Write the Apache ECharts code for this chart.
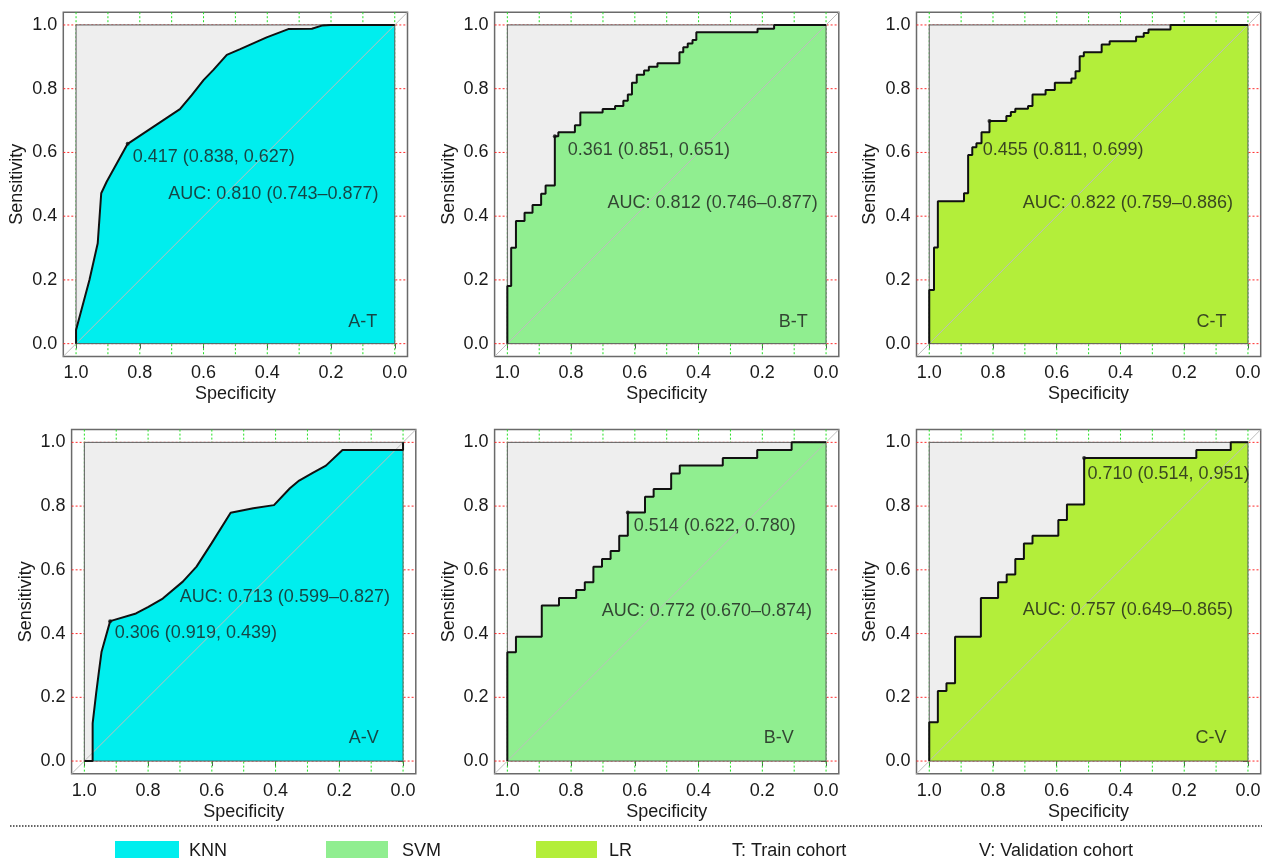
<!DOCTYPE html>
<html><head><meta charset="utf-8">
<script src="https://cdn.jsdelivr.net/npm/echarts@6/dist/echarts.min.js"></script>
<style>html,body{margin:0;padding:0;background:#fff}#c{width:1262px;height:858px}</style>
</head><body><div id="c"></div>
<script>
// ---------- tick / grid values ----------
const xTicks = [1.0, 0.8, 0.6, 0.4, 0.2, 0.0];
const yTicks = [0.0, 0.2, 0.4, 0.6, 0.8, 1.0];
const xGridLines = [0, 0.1, 0.2, 0.3, 0.4, 0.5, 0.6, 0.7, 0.8, 0.9, 1.0];
const yGridLines = [0, 0.2, 0.4, 0.6, 0.8, 1.0];
const diagonal = [-0.04, 1.04];

// ---------- A-T : KNN, train cohort (polyline) ----------
const knnTrainSpec = [1, 1, 0.958, 0.932, 0.921, 0.904, 0.838, 0.674, 0.637, 0.600, 0.569, 0.527, 0.485, 0.402, 0.334, 0.260, 0.229, 0.201, 0];
const knnTrainSens = [0, 0.043, 0.200, 0.315, 0.472, 0.508, 0.627, 0.736, 0.780, 0.827, 0.859, 0.906, 0.924, 0.961, 0.987, 0.988, 0.998, 1.0, 1.0];

// ---------- B-T : SVM, train cohort (steps) ----------
const svmTrainSpec = [1, 1, 0.988, 0.973, 0.946, 0.921, 0.894, 0.880, 0.851, 0.840, 0.788, 0.771, 0.701, 0.662, 0.636, 0.622, 0.609, 0.594, 0.571, 0.556, 0.529, 0.460, 0.448, 0.434, 0.419, 0.407, 0.215, 0.163, 0];
const svmTrainSens = [0, 0.181, 0.301, 0.385, 0.411, 0.435, 0.470, 0.496, 0.651, 0.663, 0.685, 0.725, 0.736, 0.746, 0.762, 0.782, 0.819, 0.844, 0.857, 0.869, 0.880, 0.914, 0.930, 0.942, 0.953, 0.977, 0.988, 1.0, 1.0];

// ---------- C-T : LR, train cohort (steps) ----------
const lrTrainSpec = [1, 1, 0.985, 0.973, 0.891, 0.878, 0.865, 0.852, 0.836, 0.811, 0.758, 0.744, 0.730, 0.690, 0.676, 0.635, 0.606, 0.554, 0.541, 0.528, 0.515, 0.459, 0.434, 0.351, 0.327, 0.312, 0.243, 0];
const lrTrainSens = [0, 0.168, 0.302, 0.447, 0.472, 0.592, 0.616, 0.629, 0.663, 0.699, 0.714, 0.727, 0.737, 0.746, 0.782, 0.796, 0.819, 0.832, 0.855, 0.902, 0.914, 0.939, 0.949, 0.963, 0.975, 0.986, 1.0, 1.0];

// ---------- A-V : KNN, validation cohort (polyline) ----------
const knnValSpec = [1, 0.974, 0.974, 0.963, 0.955, 0.946, 0.919, 0.838, 0.799, 0.754, 0.691, 0.648, 0.601, 0.541, 0.470, 0.405, 0.355, 0.326, 0.282, 0.242, 0.190, 0, 0];
const knnValSens = [0, 0, 0.118, 0.212, 0.275, 0.343, 0.439, 0.463, 0.484, 0.510, 0.563, 0.610, 0.683, 0.779, 0.793, 0.803, 0.856, 0.880, 0.905, 0.927, 0.976, 0.976, 1.0];

// ---------- B-V : SVM, validation cohort (steps) ----------
const svmValSpec = [1, 1, 0.973, 0.892, 0.838, 0.784, 0.757, 0.730, 0.703, 0.676, 0.649, 0.622, 0.568, 0.541, 0.486, 0.459, 0.324, 0.216, 0.108, 0];
const svmValSens = [0, 0.341, 0.390, 0.488, 0.512, 0.537, 0.561, 0.610, 0.634, 0.659, 0.707, 0.780, 0.829, 0.854, 0.902, 0.927, 0.951, 0.976, 1.0, 1.0];

// ---------- C-V : LR, validation cohort (steps) ----------
const lrValSpec = [1, 1, 0.973, 0.946, 0.919, 0.838, 0.784, 0.757, 0.730, 0.703, 0.676, 0.595, 0.568, 0.514, 0.162, 0.054, 0];
const lrValSens = [0, 0.122, 0.220, 0.244, 0.390, 0.512, 0.561, 0.585, 0.634, 0.683, 0.707, 0.756, 0.805, 0.951, 0.976, 1.0, 1.0];

// ---------- best thresholds & AUC texts ----------
const panelLabels = ['A-T', 'B-T', 'C-T', 'A-V', 'B-V', 'C-V'];
const modelNames = ['KNN', 'SVM', 'LR', 'KNN', 'SVM', 'LR'];
const thresholdPoints = [[0.838, 0.627], [0.851, 0.651], [0.811, 0.699], [0.919, 0.439], [0.622, 0.780], [0.514, 0.951]];
const thresholdTexts = ['0.417 (0.838, 0.627)', '0.361 (0.851, 0.651)', '0.455 (0.811, 0.699)', '0.306 (0.919, 0.439)', '0.514 (0.622, 0.780)', '0.710 (0.514, 0.951)'];
const aucTexts = ['AUC: 0.810 (0.743\u20130.877)', 'AUC: 0.812 (0.746\u20130.877)', 'AUC: 0.822 (0.759\u20130.886)', 'AUC: 0.713 (0.599\u20130.827)', 'AUC: 0.772 (0.670\u20130.874)', 'AUC: 0.757 (0.649\u20130.865)'];
const legendNames = ['KNN', 'SVM', 'LR', 'T: Train cohort', 'V: Validation cohort'];

// ---------- layout & style (not data) ----------
const curves = [
  [knnTrainSpec, knnTrainSens, false], [svmTrainSpec, svmTrainSens, true], [lrTrainSpec, lrTrainSens, true],
  [knnValSpec, knnValSens, false], [svmValSpec, svmValSens, true], [lrValSpec, lrValSens, true]
];
const modelColors = {KNN: '#00EEEE', SVM: '#90EE90', LR: '#B3EE3A'};
const boxes = [
  {left: 63.3, top: 12.2}, {left: 494.6, top: 12.2}, {left: 916.5, top: 12.2},
  {left: 71.6, top: 429.6}, {left: 494.6, top: 429.6}, {left: 916.5, top: 429.6}
];
const boxSize = 344.2;
// text anchors in data coords: [threshold text left-middle, AUC text left-middle, label right-middle]
const textAnchors = [
  [[0.824, 0.586], [0.712, 0.470], [0.053, 0.069]],
  [[0.812, 0.608], [0.687, 0.442], [0.056, 0.069]],
  [[0.834, 0.608], [0.708, 0.442], [0.066, 0.069]],
  [[0.906, 0.401], [0.702, 0.514], [0.075, 0.072]],
  [[0.605, 0.737], [0.705, 0.470], [0.100, 0.072]],
  [[0.505, 0.900], [0.708, 0.473], [0.066, 0.072]]
];
const FONT = 'Liberation Sans, Arial, Helvetica, sans-serif';
const FS = 18;
const TXT = '#1a1a1a';

const grid = [], xAxis = [], yAxis = [], series = [];
const fmt = v => Number(v).toFixed(1);

boxes.forEach((b, i) => {
  grid.push({left: b.left, top: b.top, width: boxSize, height: boxSize, show: true,
    outerBoundsMode: 'none', containLabel: false,
    borderColor: '#6a6a6a', borderWidth: 1.5, backgroundColor: 'transparent'});
  xAxis.push({type: 'value', gridIndex: i, min: -0.04, max: 1.04, inverse: true,
    axisLine: {show: false}, splitLine: {show: false},
    axisTick: {show: true, customValues: xTicks, length: 5, lineStyle: {color: '#555', width: 1}},
    axisLabel: {customValues: xTicks, formatter: fmt, fontSize: FS, fontFamily: FONT, color: TXT, margin: 8},
    name: 'Specificity', nameLocation: 'middle', nameGap: 29,
    nameTextStyle: {fontSize: FS, fontFamily: FONT, color: TXT}});
  yAxis.push({type: 'value', gridIndex: i, min: -0.04, max: 1.04,
    axisLine: {show: false}, splitLine: {show: false},
    axisTick: {show: true, customValues: yTicks, length: 5, lineStyle: {color: '#555', width: 1}},
    axisLabel: {customValues: yTicks, formatter: fmt, fontSize: FS, fontFamily: FONT, color: TXT, margin: 6},
    name: 'Sensitivity', nameLocation: 'middle', nameGap: 37,
    nameTextStyle: {fontSize: FS, fontFamily: FONT, color: TXT}});

  const ax = {xAxisIndex: i, yAxisIndex: i, silent: true, animation: false};
  // dotted guide lines (only visible in the margin around the unit square)
  series.push(Object.assign({type: 'custom', z: 1, clip: false,
    data: xGridLines.map(v => [v, 0]),
    renderItem: (p, api) => {
      const x = api.coord([api.value(0), 0])[0];
      const y1 = api.coord([0, diagonal[1]])[1], y2 = api.coord([0, diagonal[0]])[1];
      return {type: 'line', shape: {x1: x, y1: y1, x2: x, y2: y2}, style: {stroke: '#22e022', lineWidth: 1, lineDash: [2, 2]}};
    }}, ax));
  series.push(Object.assign({type: 'custom', z: 1, clip: false,
    data: yGridLines.map(v => [0, v]),
    renderItem: (p, api) => {
      const y = api.coord([0, api.value(1)])[1];
      const x1 = api.coord([diagonal[1], 0])[0], x2 = api.coord([diagonal[0], 0])[0];
      return {type: 'line', shape: {x1: x1, y1: y, x2: x2, y2: y}, style: {stroke: '#ff2a2a', lineWidth: 1, lineDash: [2, 2]}};
    }}, ax));
  // unit-square background
  const rectRender = (fill, stroke) => (p, api) => {
    const p1 = api.coord([api.value(0), api.value(1)]);
    const p2 = api.coord([api.value(2), api.value(3)]);
    return {type: 'rect', shape: {x: Math.min(p1[0], p2[0]), y: Math.min(p1[1], p2[1]),
      width: Math.abs(p2[0] - p1[0]), height: Math.abs(p2[1] - p1[1])},
      style: {fill: fill, stroke: stroke, lineWidth: 1}};
  };
  series.push(Object.assign({type: 'custom', z: 2, clip: false, data: [[1, 1, 0, 0]],
    renderItem: rectRender('#EEEEEE', null)}, ax));

  const [spec, sens, isStep] = curves[i];
  const pts = spec.map((s, k) => [s, sens[k]]);
  const col = modelColors[modelNames[i]];
  // filled area under ROC
  series.push(Object.assign({type: 'line', name: modelNames[i], z: 3, data: pts, step: isStep ? 'end' : false,
    showSymbol: false, symbol: 'none', color: col, itemStyle: {color: col},
    lineStyle: {width: 0, opacity: 0}, areaStyle: {color: col, opacity: 1, origin: 0}}, ax));
  // unit-square border
  series.push(Object.assign({type: 'custom', z: 4, clip: false, data: [[1, 1, 0, 0]],
    renderItem: rectRender(null, '#5a5a5a')}, ax));
  // diagonal reference
  series.push(Object.assign({type: 'line', z: 5, data: [[diagonal[1], diagonal[0]], [diagonal[0], diagonal[1]]],
    showSymbol: false, symbol: 'none', lineStyle: {color: '#bdbdbd', width: 1}}, ax));
  // ROC curve
  series.push(Object.assign({type: 'line', z: 6, data: pts, step: isStep ? 'end' : false,
    showSymbol: false, symbol: 'none', lineStyle: {color: '#111', width: 2}}, ax));
  // best threshold point
  series.push(Object.assign({type: 'scatter', z: 7, data: [thresholdPoints[i]], symbolSize: 4,
    itemStyle: {color: '#111'}}, ax));
  // texts
  const ta = textAnchors[i];
  const lab = (txt, pos) => ({show: true, formatter: txt, position: pos, distance: 0,
    fontSize: FS, fontFamily: FONT, color: TXT});
  series.push(Object.assign({type: 'scatter', z: 8, symbolSize: 1, itemStyle: {color: 'rgba(0,0,0,0)'},
    data: [
      {value: ta[0], label: lab(thresholdTexts[i], 'right')},
      {value: ta[1], label: lab(aucTexts[i], 'right')},
      {value: ta[2], label: lab(panelLabels[i], 'left')}
    ]}, ax));
});
// legend-only series for cohort keys
series.push({type: 'line', name: legendNames[3], data: [], xAxisIndex: 0, yAxisIndex: 0, color: 'rgba(0,0,0,0)'});
series.push({type: 'line', name: legendNames[4], data: [], xAxisIndex: 0, yAxisIndex: 0, color: 'rgba(0,0,0,0)'});

const legendCfg = [
  {name: legendNames[0], left: 110, w: 64, gap: 5},
  {name: legendNames[1], left: 321, w: 62, gap: 9},
  {name: legendNames[2], left: 531, w: 61, gap: 7},
  {name: legendNames[3], left: 717, w: 0, gap: 5},
  {name: legendNames[4], left: 964, w: 0, gap: 5}
];
const legend = legendCfg.map(l => ({
  data: [{name: l.name, icon: 'rect'}], left: l.left, top: 836, orient: 'horizontal',
  itemWidth: l.w, itemHeight: 20, selectedMode: false,
  itemStyle: {borderWidth: 0}, lineStyle: {width: 0},
  textStyle: {fontSize: FS, fontFamily: FONT, color: TXT, padding: [0, 0, 0, l.gap]}
}));

const chart = echarts.init(document.getElementById('c'), null, {renderer: 'canvas'});
chart.setOption({
  animation: false,
  backgroundColor: '#ffffff',
  grid: grid, xAxis: xAxis, yAxis: yAxis, series: series, legend: legend,
  graphic: [{type: 'line', silent: true, shape: {x1: 10, y1: 826, x2: 1262, y2: 826},
    style: {stroke: '#333', lineWidth: 1.5, lineDash: [1.5, 1.5]}}]
});
</script></body></html>
